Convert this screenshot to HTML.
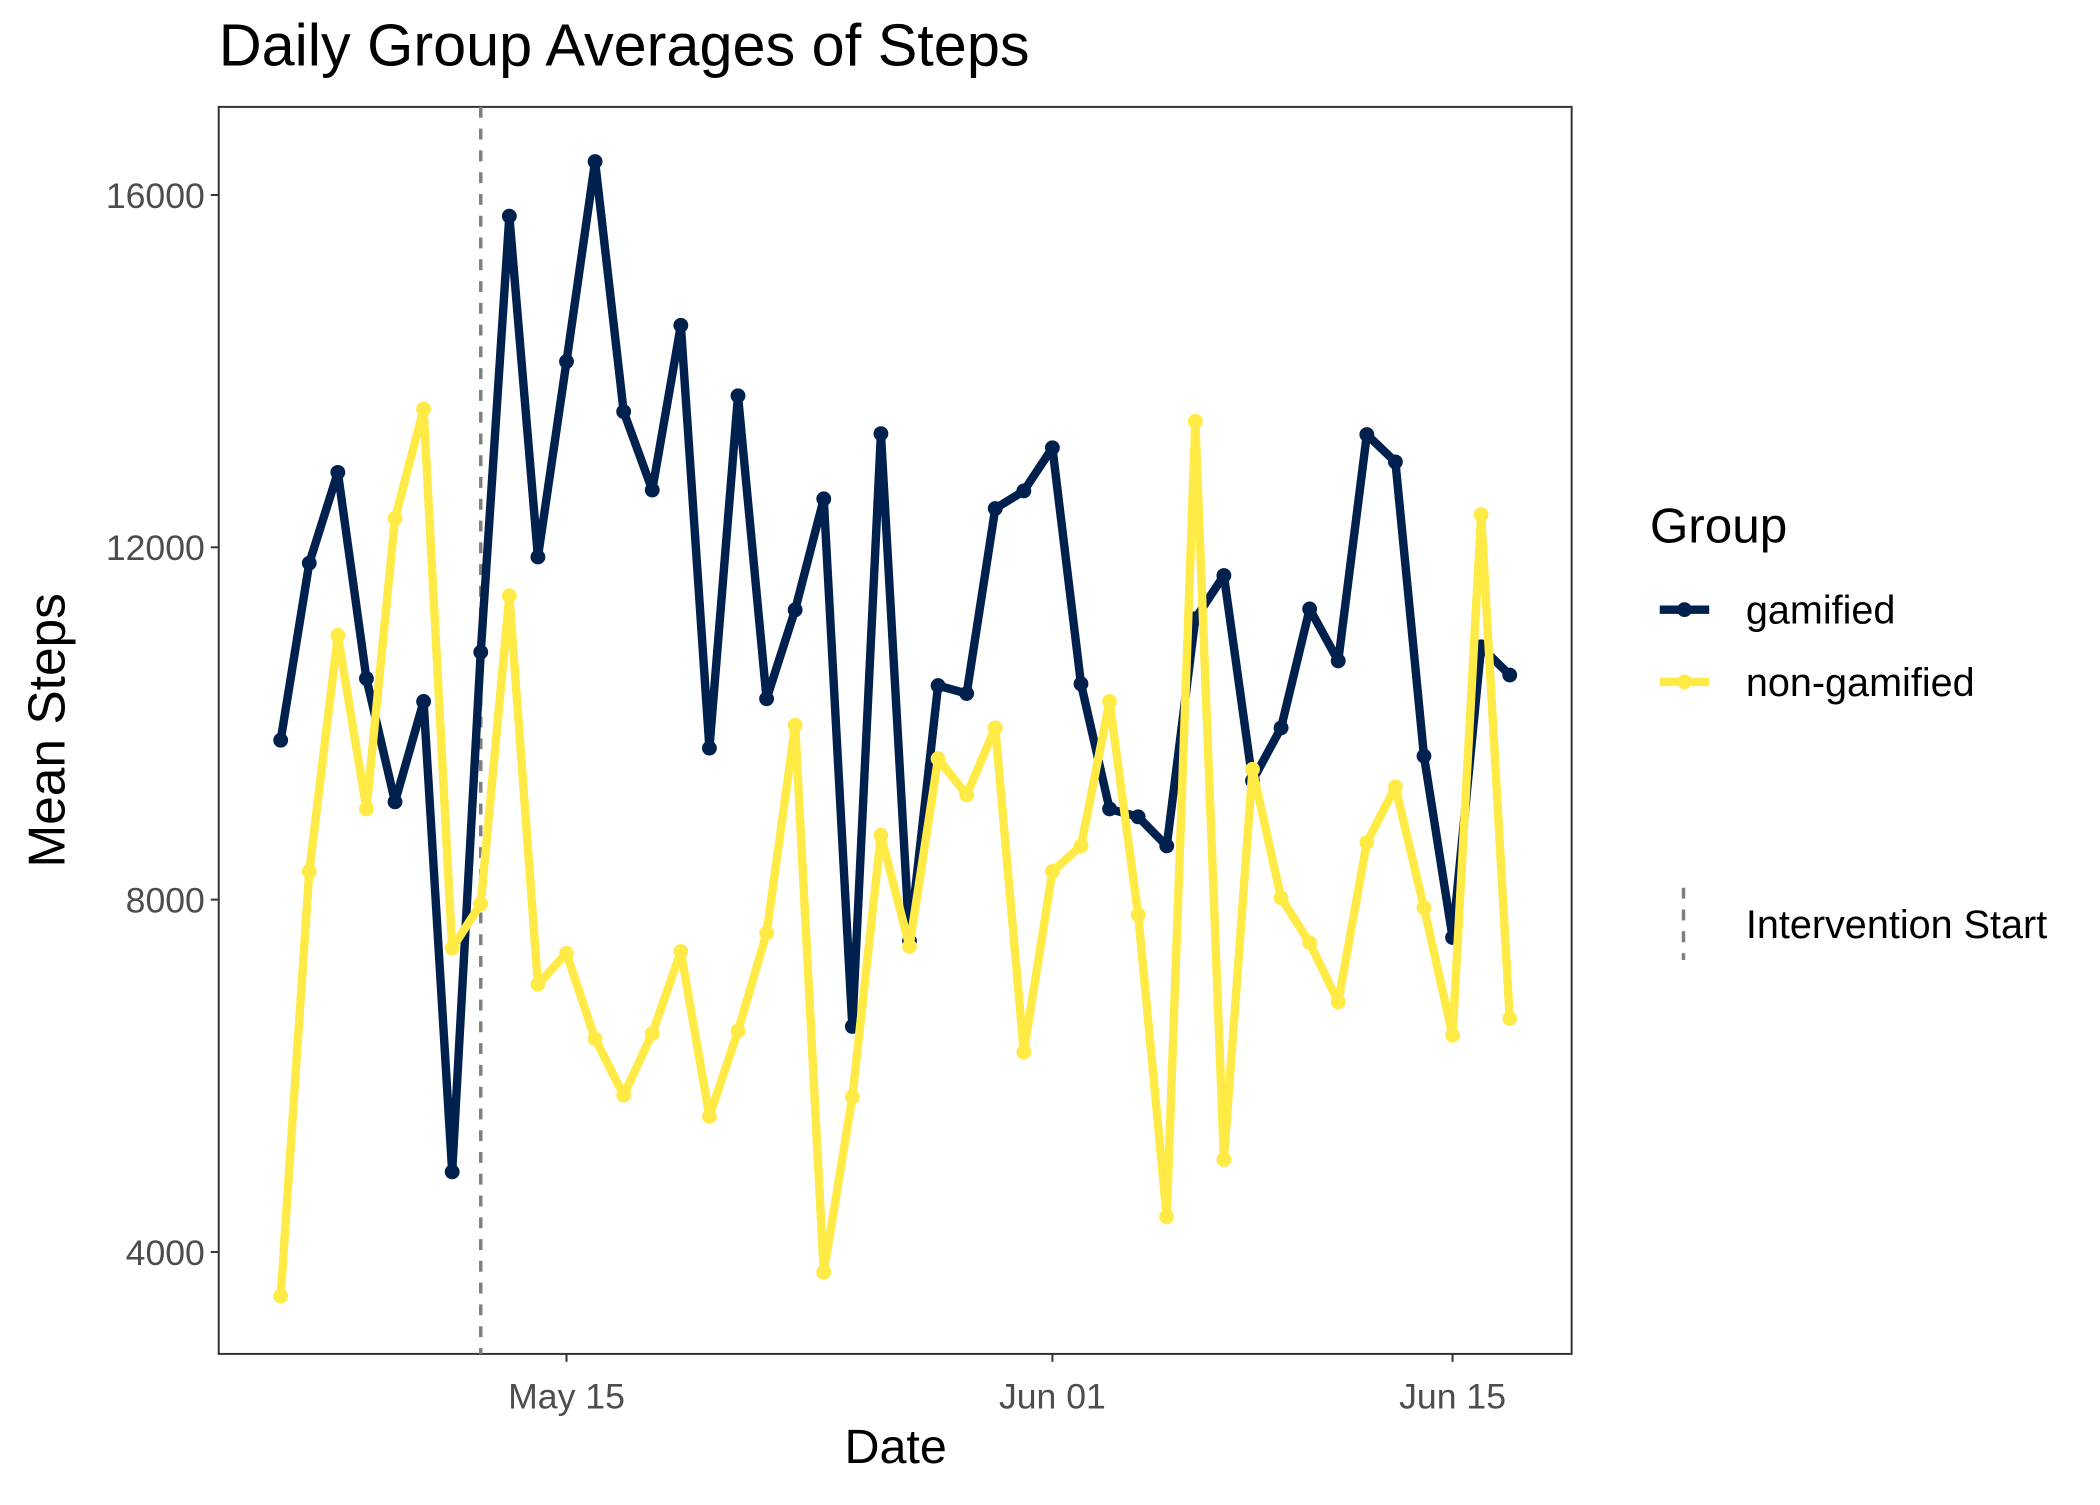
<!DOCTYPE html>
<html><head><meta charset="utf-8"><style>
body{margin:0;background:#fff}
text{font-family:"Liberation Sans",Arial,sans-serif}
</style></head><body>
<svg id="chart" width="2100" height="1500" xmlns="http://www.w3.org/2000/svg">
<rect width="2100" height="1500" fill="#fff"/>
<g transform="scale(0.9897)">
<text x="221" y="66" font-size="60" fill="#000">Daily Group Averages of Steps</text>
<g id="plot"></g>
<text x="0" y="0" font-size="52" transform="translate(65,738) rotate(-90)" text-anchor="middle">Mean Steps</text>
<text x="905" y="1478" font-size="49" text-anchor="middle">Date</text>
<g>
<text x="1667" y="548" font-size="50">Group</text>
<g>
<line x1="1677" y1="616" x2="1727" y2="616" stroke="#00204D" stroke-width="8.5"/>
<circle cx="1702" cy="616" r="7.5" fill="#00204D"/>
<text x="1764" y="630" font-size="40">gamified</text></g>
<g>
<line x1="1677" y1="689" x2="1727" y2="689" stroke="#FFEA46" stroke-width="8.5"/>
<circle cx="1702" cy="689" r="7.5" fill="#FFEA46"/>
<text x="1764" y="703" font-size="40">non-gamified</text></g>
<g>
<line x1="1701" y1="897" x2="1701" y2="970" stroke="#7f7f7f" stroke-width="3.5" stroke-dasharray="11,11"/>
<text x="1764" y="948" font-size="40">Intervention Start</text></g>
</g>
</g>
</svg>
<script>
const gamified=[9810,11820,12850,10510,9110,10250,4910,10810,15760,11890,14110,16380,13540,12650,14520,9720,13720,10280,11290,12550,6560,13290,7530,10430,10340,12440,12640,13130,10450,9030,8940,8610,11190,11680,9350,9950,11300,10710,13280,12970,9630,7570,10870,10550];
const nonGamified=[3500,8320,11000,9030,12330,13570,7450,7950,11450,7040,7390,6420,5780,6480,7410,5540,6510,7620,9980,3770,5760,8730,7470,9600,9190,9950,6270,8320,8610,10250,7830,4400,13430,5050,9480,8020,7510,6840,8650,9280,7910,6460,12370,6650];
const startDay=-10; // days relative to May 15 (May 5)
const yTicks=[4000,8000,12000,16000];
const xTickDays=[0,17,31];
const xTickLabels=["May 15","Jun 01","Jun 15"];
const interventionDay=-3;

const NS="http://www.w3.org/2000/svg";
const P={l:221,r:1588,t:108,b:1368};
const x=d=>572.4+d*28.88;
const y=v=>1265-(v-4000)*356/4000;
const g=document.getElementById('plot');
function el(t,a,p){const e=document.createElementNS(NS,t);for(const k in a)e.setAttribute(k,a[k]);(p||g).appendChild(e);return e;}

const panel=el('rect',{x:P.l,y:P.t,width:P.r-P.l,height:P.b-P.t,fill:'none',stroke:'#333',"stroke-width":2});



yTicks.forEach(v=>{
  const t=el('line',{x1:P.l-8,x2:P.l,y1:y(v),y2:y(v),stroke:'#333','stroke-width':2});
  
  
  const l=el('text',{x:P.l-14,y:y(v)+13,'font-size':36,fill:'#4d4d4d','text-anchor':'end'});
  l.textContent=v;
  
  
});
xTickDays.forEach((d,i)=>{
  const t=el('line',{x1:x(d),x2:x(d),y1:P.b,y2:P.b+8,stroke:'#333','stroke-width':2});
  
  
  const l=el('text',{x:x(d),y:P.b+55,'font-size':36,fill:'#4d4d4d','text-anchor':'middle'});
  l.textContent=xTickLabels[i];
  
  
});

const vl=el('line',{x1:x(interventionDay),x2:x(interventionDay),y1:P.t,y2:P.b,stroke:'#7f7f7f','stroke-width':3.5,'stroke-dasharray':'11,11'});



function series(vals,color,name){
  const pts=vals.map((v,i)=>x(startDay+i)+','+y(v)).join(' ');
  const pl=el('polyline',{points:pts,fill:'none',stroke:color,'stroke-width':8.5,'stroke-linejoin':'round'});
  
  
  vals.forEach((v,i)=>{
    const c=el('circle',{cx:x(startDay+i),cy:y(v),r:7.5,fill:color});
    
    
  });
}
series(gamified,'#00204D','gamified');
series(nonGamified,'#FFEA46','non-gamified');
</script>
</body></html>
